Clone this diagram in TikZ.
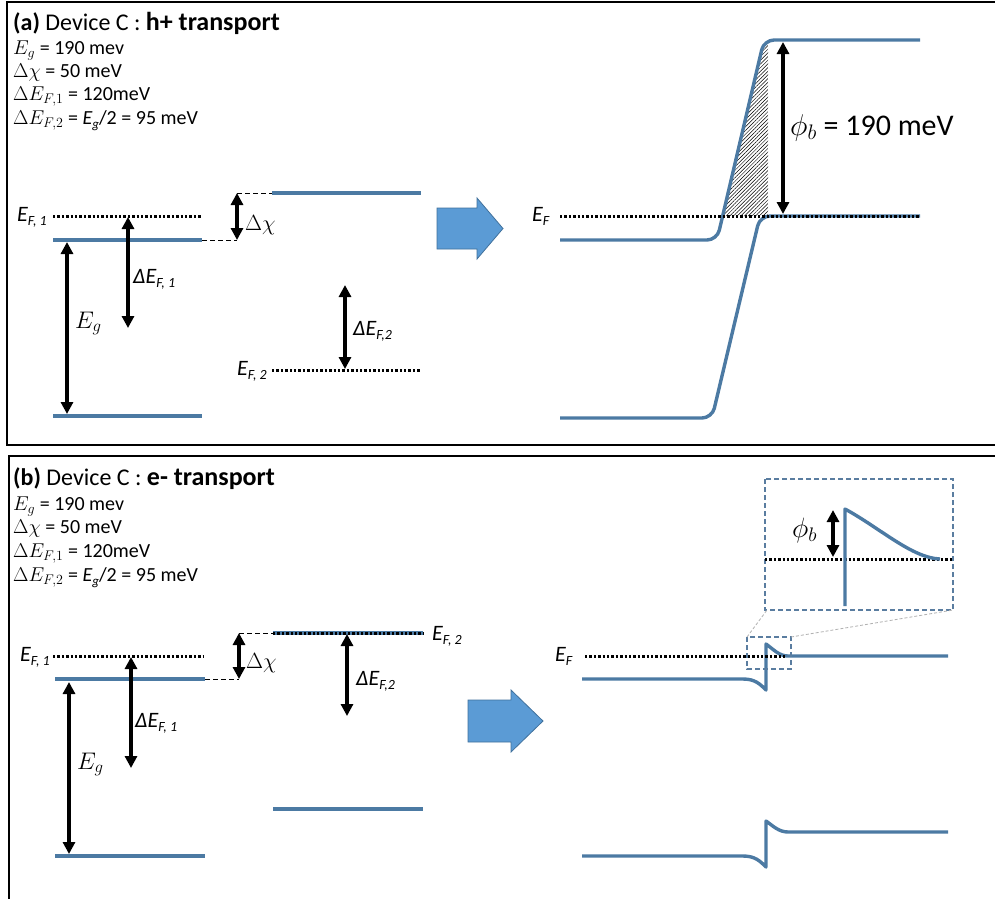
\documentclass[tikz,border=0pt]{standalone}
\usepackage{fix-cm}
\usepackage{graphicx}
\usepackage{fontspec}
\setmainfont{Carlito}
\usetikzlibrary{arrows.meta,patterns.meta}
\definecolor{bandc}{RGB}{76,122,163}
\definecolor{arrowfill}{RGB}{91,155,213}
\definecolor{arrowedge}{RGB}{65,113,156}
\definecolor{boxc}{RGB}{90,125,160}
\newcommand{\fsz}[1]{\fontsize{#1}{#1}\selectfont}
\newcommand{\lsub}[1]{\raisebox{-0.2em}{\fontsize{14}{14}\selectfont #1}}
\begin{document}
\begin{tikzpicture}[x=1pt,y=-1pt,
  band/.style={draw=bandc,line width=3.4pt,line join=round},
  fermi/.style={line width=3pt,dash pattern=on 2.4pt off 2pt},
  guide/.style={line width=1pt,dash pattern=on 5pt off 3pt},
  dbl/.style={line width=3.2pt,{Triangle[width=12pt,length=12pt]}-{Triangle[width=12pt,length=12pt]}},
  lbl/.style={anchor=base west,inner sep=0pt,font={\fsz{22}\itshape}},
  mlbl/.style={anchor=base west,inner sep=0pt,font={\fsz{24}}},
  txt/.style={anchor=base west,inner sep=0pt,font={\fsz{20}}},
  bigarrow/.style={fill=arrowfill,draw=arrowedge,line width=0.8pt},
  zoombox/.style={draw=boxc,line width=1.3pt,dash pattern=on 5pt off 3pt},
  zoomline/.style={draw=gray!60,line width=0.8pt,dash pattern=on 3pt off 2pt}]
\useasboundingbox (0,0) rectangle (995,898);
\clip (0,0) rectangle (995,898);
\fill[white] (0,0) rectangle (995,898);

% ---------- panel (a) ----------
\draw[line width=2.2pt] (1000,2) -- (7,2) -- (7,445) -- (1000,445);
\node[txt] (titleA) at (13,30) {\fsz{24}\textbf{(a)} Device C : {\fsz{26}\bfseries h+ transport}};
\node[txt] (pA1) at (13,54) {$E_g$ = 190 mev};
\node[txt] (pA2) at (13,77) {$\Delta\chi$ = 50 meV};
\node[txt] (pA3) at (13,100) {$\Delta E_{F,1}$ = 120meV};
\node[txt] (pA4) at (13,124) {$\Delta E_{F,2}$ = \textit{E\raisebox{-0.2em}{\fsz{13}g}}/2 = 95 meV};

\draw[fermi] (53,216) -- (202,216);
\draw[band] (53,240) -- (202,240);
\draw[band] (53,416) -- (202,416);
\draw[guide] (202,240) -- (237,240);
\draw[guide] (237,193) -- (272,193);
\draw[band] (272,193) -- (421,193);
\draw[fermi] (272,370) -- (421,370);
\draw[dbl] (67,242) -- (67,414);
\draw[dbl] (128,217) -- (128,328);
\draw[dbl] (237,193) -- (237,240);
\draw[dbl] (345,285) -- (345,369);
\node[lbl] (ef1A) at (17,221) {E\lsub{F, 1}};
\node[lbl] (def1A) at (133,283) {ΔE\lsub{F, 1}};
\node[mlbl] (egA) at (75,328) {$E_g$};
\node[mlbl,font={\fsz{22}}] (dchiA) at (245,230) {$\Delta\chi$};
\node[lbl] (def2A) at (353,335) {ΔE\lsub{F,2}};
\node[lbl] (ef2A) at (237,375) {E\lsub{F, 2}};

\filldraw[bigarrow] (437,208) -- (477,208) -- (477,198) -- (503,228.5) -- (477,259) -- (477,249) -- (437,249) -- cycle;

\fill[pattern={Lines[angle=45,distance=2.6pt,line width=0.5pt]}] (722.6,216) -- (758,65) -- (761.5,52) -- (768,45) -- (768,216) -- cycle;
\draw[band,rounded corners=10pt] (560,240) -- (717,240) -- (764,40) -- (920,40);
\draw[band,rounded corners=10pt] (560,418) -- (712,418) -- (760,216) -- (920,216);
\draw[fermi] (560,216) -- (920,216);
\draw[dbl] (783,42) -- (783,214);
\node[lbl] (efA) at (532,221) {E\lsub{F}};
\node[anchor=base west,inner sep=0pt,font={\fsz{30}}] (phiA) at (790,135) {$\phi_b$ = 190 meV};

% ---------- panel (b) ----------
\draw[line width=2.2pt] (1000,456) -- (9,456) -- (9,900);
\node[txt] (titleB) at (13,485) {\fsz{24}\textbf{(b)} Device C : {\fsz{26}\bfseries e- transport}};
\node[txt] (pB1) at (13,510) {$E_g$ = 190 mev};
\node[txt] (pB2) at (13,533) {$\Delta\chi$ = 50 meV};
\node[txt] (pB3) at (13,557) {$\Delta E_{F,1}$ = 120meV};
\node[txt] (pB4) at (13,581) {$\Delta E_{F,2}$ = \textit{E\raisebox{-0.2em}{\fsz{13}g}}/2 = 95 meV};

\draw[fermi] (53,656) -- (203,656);
\draw[band] (55,679) -- (205,679);
\draw[band] (55,856) -- (205,856);
\draw[guide] (205,679) -- (239,679);
\draw[guide] (239,633) -- (273,633);
\draw[band] (273,633) -- (423,633);
\draw[fermi] (273,633) -- (423,633);
\draw[band] (273,809) -- (423,809);
\draw[dbl] (69,682) -- (69,854);
\draw[dbl] (131,657) -- (131,768);
\draw[dbl] (239,633) -- (239,679);
\draw[dbl] (347,634) -- (347,716);
\node[lbl] (ef1B) at (20,661) {E\lsub{F, 1}};
\node[lbl] (def1B) at (135,727) {ΔE\lsub{F, 1}};
\node[mlbl] (egB) at (77,769) {$E_g$};
\node[mlbl,font={\fsz{22}}] (dchiB) at (246,668) {$\Delta\chi$};
\node[lbl] (ef2B) at (432,640) {E\lsub{F, 2}};
\node[lbl] (def2B) at (356,685) {ΔE\lsub{F,2}};

\filldraw[bigarrow] (468,700) -- (511,700) -- (511,690) -- (543,721) -- (511,752) -- (511,742) -- (468,742) -- cycle;

\draw[band] (582,679) -- (743,679) .. controls (755,679) and (760,684) .. (766,690) -- (766,644) .. controls (773,649) and (779,656) .. (788,656) -- (948,656);
\draw[band] (582,856) -- (743,856) .. controls (755,856) and (760,861) .. (766,867) -- (766,821) .. controls (773,826) and (779,832) .. (788,832) -- (948,832);
\draw[fermi] (585,656) -- (786,656);
\node[lbl] (efB) at (555,661) {E\lsub{F}};
\draw[zoombox] (747,637) rectangle (791,669);
\draw[zoombox] (765,479) rectangle (953,610);
\draw[zoomline] (747,637) -- (767,610);
\draw[zoomline] (791,637) -- (953,610);
\draw[fermi] (765,559) -- (952,559);
\draw[band] (845,606) -- (845,509) .. controls (880,528) and (912,558) .. (940,559);
\draw[dbl] (833,510) -- (833,557);
\node[anchor=base west,inner sep=0pt,font={\fsz{28}}] (phiB) at (792,537) {$\phi_b$};
\end{tikzpicture}
\end{document}
